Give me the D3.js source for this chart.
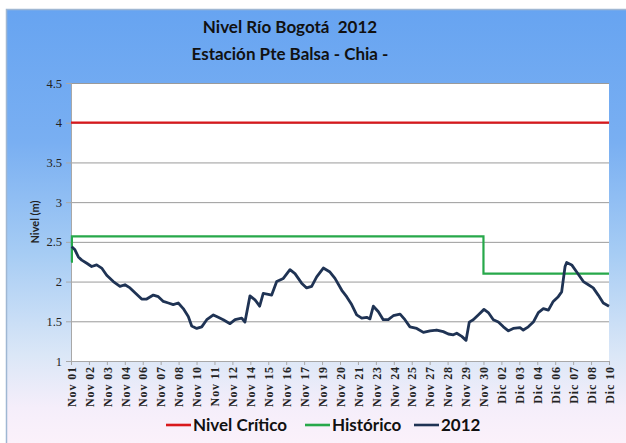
<!DOCTYPE html>
<html><head><meta charset="utf-8">
<script src="https://cdn.jsdelivr.net/npm/d3@7/dist/d3.min.js"></script>
<style>html,body{margin:0;padding:0;background:#fff;}svg{display:block;}</style>
</head><body>
<script>
// ---- data ----
const tickLabels = ["Nov 01","Nov 02","Nov 03","Nov 04","Nov 06","Nov 07","Nov 08","Nov 10","Nov 11","Nov 12","Nov 14","Nov 15","Nov 16","Nov 17","Nov 19","Nov 20","Nov 21","Nov 23","Nov 24","Nov 25","Nov 27","Nov 28","Nov 29","Nov 30","Dic 02","Dic 03","Dic 04","Dic 06","Dic 07","Dic 08","Dic 10"];
const yTicks = [1,1.5,2,2.5,3,3.5,4,4.5];
// position along the category axis (in label units) and level of 2012 series
const pos2012 = [0.04,0.22,0.41,0.60,0.88,1.15,1.43,1.71,1.99,2.36,2.73,3.01,3.29,3.57,3.94,4.22,4.59,4.87,5.15,5.43,5.70,5.98,6.26,6.54,6.73,7.01,7.29,7.57,7.94,8.21,8.49,8.87,9.15,9.52,9.70,9.98,10.26,10.52,10.72,11.00,11.19,11.47,11.84,12.21,12.49,12.86,13.14,13.42,13.70,14.07,14.44,14.72,15.10,15.37,15.65,15.93,16.21,16.49,16.67,16.86,17.14,17.41,17.69,17.97,18.35,18.62,18.90,19.28,19.65,20.02,20.39,20.76,21.04,21.32,21.51,21.79,22.03,22.21,22.43,22.71,23.03,23.27,23.55,23.83,24.11,24.39,24.66,25.04,25.22,25.50,25.78,26.06,26.34,26.62,26.89,27.17,27.36,27.55,27.64,27.92,28.20,28.57,28.85,29.12,29.40,29.68,30.00];
const nivel2012 = [2.44,2.40,2.31,2.27,2.23,2.19,2.21,2.17,2.08,2.00,1.94,1.96,1.92,1.86,1.78,1.78,1.83,1.81,1.75,1.73,1.71,1.73,1.66,1.56,1.44,1.41,1.43,1.52,1.58,1.55,1.52,1.47,1.52,1.54,1.49,1.82,1.77,1.69,1.85,1.84,1.83,2.00,2.04,2.15,2.10,1.98,1.92,1.94,2.06,2.17,2.12,2.04,1.89,1.81,1.71,1.58,1.54,1.55,1.53,1.69,1.62,1.52,1.52,1.57,1.59,1.52,1.43,1.41,1.36,1.38,1.39,1.37,1.34,1.33,1.35,1.31,1.26,1.49,1.52,1.58,1.65,1.61,1.52,1.49,1.43,1.38,1.41,1.42,1.39,1.43,1.49,1.61,1.66,1.64,1.75,1.81,1.87,2.19,2.24,2.21,2.12,2.00,1.96,1.92,1.83,1.73,1.69];
const histPos = [0,0.05,23,30];
const histVal = [2.25,2.57,2.10,2.10];
const critPos = [0,30];
const critVal = [4,4];
const seriesNames = ["Nivel Crítico","Histórico","2012"];
const seriesColors = ["#d9181c","#27a84a","#1f3354"];

// ---- layout ----
const W = 626, H = 443;
const m = {left:71, right:609, top:83, bottom:361};
const svg = d3.select("body").append("svg").attr("width",W).attr("height",H);
const defs = svg.append("defs");
const grad = defs.append("linearGradient").attr("id","bg").attr("x1",0).attr("y1",0).attr("x2",0).attr("y2",1);
[[0,"#67a4f1"],[0.3,"#79aff2"],[0.55,"#a6ccf4"],[0.78,"#dbe7f7"],[0.9,"#f5eefa"],[1,"#fdf2fa"]].forEach(s=>grad.append("stop").attr("offset",s[0]).attr("stop-color",s[1]));
svg.append("rect").attr("x",6.5).attr("y",9.5).attr("width",W).attr("height",H).attr("fill","url(#bg)").attr("stroke","#9fb7d3").attr("stroke-width",1.5);

const x = d3.scaleLinear().domain([0,tickLabels.length-1]).range([m.left,m.right]);
const y = d3.scaleLinear().domain([1,4.5]).range([m.bottom,m.top]);

svg.append("rect").attr("x",m.left).attr("y",m.top).attr("width",m.right-m.left).attr("height",m.bottom-m.top).attr("fill","#fff");

// gridlines
svg.append("g").selectAll("line").data(yTicks.filter(v=>v>1)).join("line")
  .attr("x1",m.left).attr("x2",m.right).attr("y1",d=>y(d)+0.5).attr("y2",d=>y(d)+0.5)
  .attr("stroke","#9a9a9a").attr("stroke-width",1);

// y axis
const yAxis = svg.append("g").attr("transform",`translate(${m.left},0)`)
  .call(d3.axisLeft(y).tickValues(yTicks).tickSize(5).tickFormat(d=>String(d)));
yAxis.select(".domain").attr("stroke","#a8a8a8");
yAxis.selectAll(".tick line").attr("stroke","#a8a8a8");
yAxis.selectAll("text").attr("font-family","Liberation Serif, serif").attr("font-size",12.5).attr("fill","#222").attr("x",-9);

// x axis
const xAxis = svg.append("g").attr("transform",`translate(0,${m.bottom})`)
  .call(d3.axisBottom(x).tickValues(d3.range(tickLabels.length)).tickSize(4).tickFormat(i=>tickLabels[i]));
xAxis.select(".domain").attr("stroke","#a8a8a8");
xAxis.selectAll(".tick line").attr("stroke","#a8a8a8");
xAxis.selectAll("text").attr("font-family","Liberation Serif, serif").attr("font-weight","bold").attr("font-size",12).attr("letter-spacing","0.9px").attr("fill","#222")
  .attr("transform","rotate(-90)").attr("text-anchor","end").attr("x",-5).attr("y",0).attr("dy","0.35em");

// axis title
svg.append("text").attr("transform",`translate(39,${(m.top+m.bottom)/2}) rotate(-90)`)
  .attr("text-anchor","middle").attr("font-family","Lato, sans-serif").attr("font-weight","bold").attr("font-size",11).attr("fill","#222").text("Nivel (m)");

// lines
const line = d3.line().x(d=>x(d[0])).y(d=>y(d[1]));
svg.append("path").datum(critPos.map((p,i)=>[p,critVal[i]])).attr("d",line)
  .attr("fill","none").attr("stroke",seriesColors[0]).attr("stroke-width",2.2);
svg.append("path").datum(histPos.map((p,i)=>[p,histVal[i]])).attr("d",line.curve(d3.curveStepAfter))
  .attr("fill","none").attr("stroke",seriesColors[1]).attr("stroke-width",2.2);
svg.append("path").datum(pos2012.map((p,i)=>[p,nivel2012[i]])).attr("d",d3.line().x(d=>x(d[0])).y(d=>y(d[1])))
  .attr("fill","none").attr("stroke",seriesColors[2]).attr("stroke-width",2.8).attr("stroke-linejoin","round");

// title
const title = svg.append("text").attr("text-anchor","middle").attr("font-family","Lato, sans-serif").attr("font-weight","bold").attr("font-size",17).attr("fill","#111");
title.append("tspan").attr("x",290).attr("y",33).text("Nivel Río Bogotá  2012").attr("xml:space","preserve");
title.append("tspan").attr("x",290).attr("y",60).text("Estación Pte Balsa - Chia -");

// legend
const legX = [166,305,414];
const lg = svg.append("g");
seriesNames.forEach((n,i)=>{
  lg.append("line").attr("x1",legX[i]).attr("x2",legX[i]+25).attr("y1",425).attr("y2",425).attr("stroke",seriesColors[i]).attr("stroke-width",2.6);
  lg.append("text").attr("x",legX[i]+27).attr("y",431).attr("font-family","Lato, sans-serif").attr("font-weight","bold").attr("font-size",17).attr("fill","#111").text(n);
});
</script>
</body></html>
